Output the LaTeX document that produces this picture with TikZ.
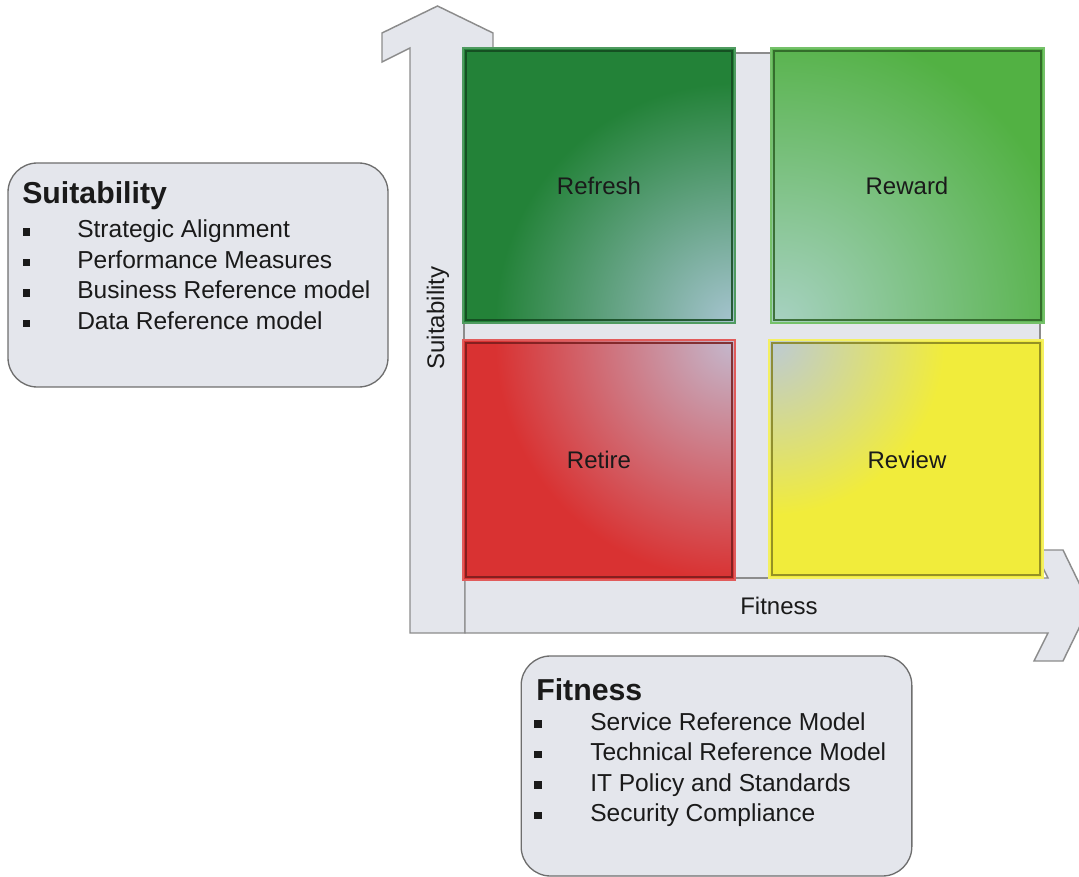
\documentclass[tikz,border=0pt]{standalone}
\usepackage{fontspec}
\setmainfont{Liberation Sans}
\usetikzlibrary{positioning}

\definecolor{axisgray}{HTML}{E4E6EC}
\definecolor{edgegray}{HTML}{8C8C8C}
\definecolor{boxedge}{HTML}{6E6E6E}
\definecolor{inktext}{HTML}{1A1A1A}
\definecolor{refreshbase}{HTML}{238238}
\definecolor{refreshlight}{HTML}{A6C4D0}
\definecolor{rewardbase}{HTML}{52B143}
\definecolor{rewardlight}{HTML}{A6D1C0}
\definecolor{retirebase}{HTML}{D93232}
\definecolor{retirelight}{HTML}{C4B9CE}
\definecolor{reviewbase}{HTML}{F1EC3B}
\definecolor{reviewlight}{HTML}{BCCAD6}

\tikzset{
  axisarrow/.style={fill=axisgray, draw=edgegray, line width=1.1pt, line join=miter},
  panel/.style={fill=axisgray, draw=edgegray, line width=1pt},
  quadrim/.style={line width=1.4pt},
  quadedge/.style={line width=0.8pt, draw opacity=0.85},
  quadlabel/.style={font=\fontsize{18}{22}\selectfont, text=inktext, inner sep=0pt},
  axislabel/.style={font=\fontsize{18}{22}\selectfont, text=inktext, inner sep=0pt},
  infobox/.style={fill=axisgray, draw=boxedge, line width=1pt, rounded corners=22pt, inner sep=0pt},
  boxtitle/.style={font=\fontsize{22.7}{27}\selectfont\bfseries, text=inktext, inner sep=0pt, anchor=base west},
  boxitem/.style={font=\fontsize{18.4}{22}\selectfont, text=inktext, inner sep=0pt, anchor=base west},
  bulletmark/.style={fill=inktext, inner sep=0pt, minimum size=5.6pt}
}

\begin{document}
\begin{tikzpicture}[x=0.75pt,y=-0.75pt]
	\useasboundingbox (0,0) rectangle (1079,877);

	% axes
	\draw[axisarrow] (410,633) -- (410,48) -- (382,62) -- (382,33) -- (437.5,6) -- (493,33) -- (493,62) -- (465,48) -- (465,633) -- cycle;
	\draw[axisarrow] (465,633) -- (1048,633) -- (1034,661) -- (1063,661) -- (1090,605.5) -- (1063,550) -- (1034,550) -- (1048,578) -- (465,578) -- cycle;
	\draw[panel] (464,53) rectangle (1040,578);

	% Refresh
	\begin{scope}
		\clip (463,48) rectangle (735,323);
		\fill[refreshbase] (463,48) rectangle (735,323);
		\shade[inner color=refreshlight, outer color=refreshbase] (735,323) circle (240);
	\end{scope}
	\draw[quadrim, draw=refreshbase!80!white] (463,48) rectangle (735,323);
	\draw[quadedge, draw=refreshbase!55!black] (466,51) rectangle (732,320);

	% Reward
	\begin{scope}
		\clip (771,48) rectangle (1044,323);
		\fill[rewardbase] (771,48) rectangle (1044,323);
		\shade[inner color=rewardlight, outer color=rewardbase] (780,320) circle (300);
	\end{scope}
	\draw[quadrim, draw=rewardbase!80!white] (771,48) rectangle (1044,323);
	\draw[quadedge, draw=rewardbase!55!black] (774,51) rectangle (1041,320);

	% Retire
	\begin{scope}
		\clip (463,340) rectangle (735,580);
		\fill[retirebase] (463,340) rectangle (735,580);
		\shade[inner color=retirelight, outer color=retirebase] (735,340) circle (240);
	\end{scope}
	\draw[quadrim, draw=retirebase!80!white] (463,340) rectangle (735,580);
	\draw[quadedge, draw=retirebase!55!black] (466,343) rectangle (732,577);

	% Review
	\begin{scope}
		\clip (769,340) rectangle (1043,578);
		\fill[reviewbase] (769,340) rectangle (1043,578);
		\shade[inner color=reviewlight, outer color=reviewbase] (770,340) circle (175);
	\end{scope}
	\draw[quadrim, draw=reviewbase!80!white] (769,340) rectangle (1043,578);
	\draw[quadedge, draw=reviewbase!55!black] (772,343) rectangle (1040,575);

	\node[quadlabel] (refresh) at (599,186) {Refresh};
	\node[quadlabel] (reward) at (907,186) {Reward};
	\node[quadlabel] (retire) at (599,460) {Retire};
	\node[quadlabel] (review) at (907,460) {Review};

	\node[axislabel, rotate=90] (suitlabel) at (438,318) {Suitability};
	\node[axislabel] (fitlabel) at (779,606) {Fitness};

	% Suitability box
	\node[infobox, minimum width=285pt, minimum height=168pt] (suitbox) at (198,275) {};
	\node[boxtitle] (suittitle) at (22,204) {Suitability};
	\foreach \item [count=\i] in {Strategic Alignment, Performance Measures, Business Reference model, Data Reference model} {
		\node[boxitem] (suititem\i) at (77,{238+30.5*(\i-1)}) {\item};
		\node[bulletmark] (suitbullet\i) at (26.5,{232+30.5*(\i-1)}) {};
	}

	% Fitness box
	\node[infobox, minimum width=293pt, minimum height=165pt] (fitbox) at (716.5,766) {};
	\node[boxtitle] (fittitle) at (536,700) {Fitness};
	\foreach \item [count=\i] in {Service Reference Model, Technical Reference Model, IT Policy and Standards, Security Compliance} {
		\node[boxitem] (fititem\i) at (590,{730+30.5*(\i-1)}) {\item};
		\node[bulletmark] (fitbullet\i) at (538,{724+30.5*(\i-1)}) {};
	}
\end{tikzpicture}
\end{document}
